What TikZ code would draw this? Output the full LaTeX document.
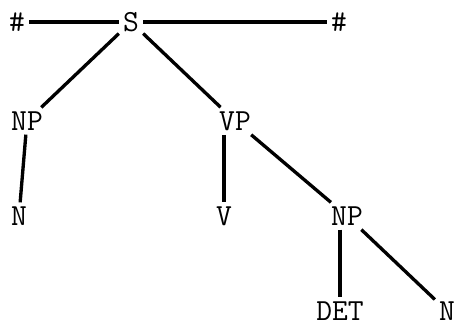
\documentclass[tikz,border=0pt]{standalone}
\usepackage{fontspec}
\setmonofont{Latin Modern Mono}
\begin{document}
\begin{tikzpicture}[x=0.75pt,y=-0.75pt,
    every node/.style={font=\ttfamily\fontsize{23}{23}\selectfont,inner sep=3pt},
    branch/.style={line width=2.5pt}]
    \useasboundingbox (0,0) rectangle (459,327);
    %% boundary and root
    \node (hl) at (17,22) {\#};
    \node (s) at (131,22) {S};
    \node (hr) at (339,22) {\#};
    %% phrases
    \node (np) at (27,121) {NP};
    \node (vp) at (235,121) {VP};
    %% words
    \node (n) at (19,216) {N};
    \node (v) at (224,216) {V};
    \node (npb) at (347,216) {NP};
    \node (det) at (340,311) {DET};
    \node (nb) at (447,311) {N};
    %% branches
    \draw[branch] (hl) -- (s);
    \draw[branch] (s) -- (hr);
    \draw[branch] (s) -- (np);
    \draw[branch] (s) -- (vp);
    \draw[branch] (np) -- (n);
    \draw[branch] (vp.south -| v) -- (v);
    \draw[branch] (vp) -- (npb);
    \draw[branch] (npb.south -| det) -- (det);
    \draw[branch] (npb) -- (nb);
\end{tikzpicture}
\end{document}
